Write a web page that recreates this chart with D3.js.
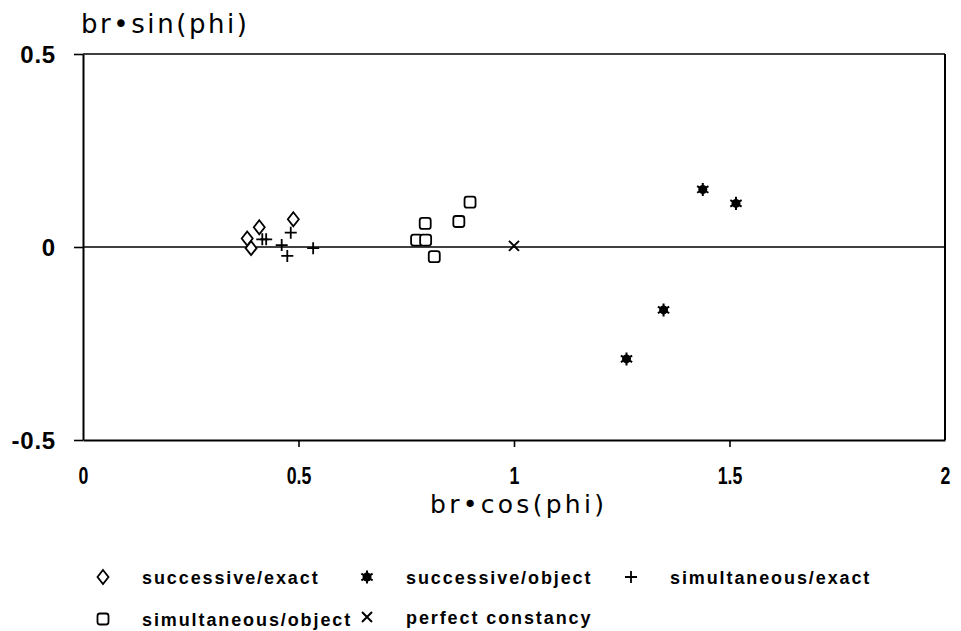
<!DOCTYPE html>
<html>
<head>
<meta charset="utf-8">
<script src="https://cdn.jsdelivr.net/npm/d3@7/dist/d3.min.js"></script>
<style>
  html, body { margin: 0; padding: 0; background: #fff; }
  svg { display: block; }
  text { font-family: "Liberation Sans", Arial, Helvetica, sans-serif; fill: #000; }
</style>
</head>
<body>
<svg id="chart" width="961" height="631"></svg>
<script>
// ---- data ----
const successiveExact = [
  [0.381, 0.022], [0.390, -0.003], [0.409, 0.051], [0.488, 0.072]
];
const successiveObject = [
  [1.261, -0.290], [1.347, -0.163], [1.438, 0.149], [1.515, 0.113]
];
const simultaneousExact = [
  [0.416, 0.020], [0.425, 0.020], [0.461, 0.005], [0.474, -0.023], [0.482, 0.037], [0.534, -0.003]
];
const simultaneousObject = [
  [0.774, 0.018], [0.795, 0.018], [0.794, 0.061], [0.815, -0.025], [0.872, 0.066], [0.898, 0.116]
];
const perfectConstancy = [[1.0, 0.003]];
const xTicks = [0, 0.5, 1, 1.5, 2];
const xTickLabels = ["0", "0.5", "1", "1.5", "2"];
const yTicks = [-0.5, 0, 0.5];
const yTickLabels = ["-0.5", "0", "0.5"];
const legendLabels = ["successive/exact", "successive/object", "simultaneous/exact",
                      "simultaneous/object", "perfect constancy"];

// ---- chart ----
const svg = d3.select("#chart");
const x = d3.scaleLinear().domain([0, 2]).range([83, 945]);
const y = d3.scaleLinear().domain([-0.5, 0.5]).range([440, 54]);

// frame (top & right)
svg.append("line").attr("x1", x(0)).attr("x2", x(2)).attr("y1", y(0.5)).attr("y2", y(0.5))
  .attr("stroke", "#000").attr("stroke-width", 1.6);
svg.append("line").attr("x1", x(2)).attr("x2", x(2)).attr("y1", y(0.5)).attr("y2", y(-0.5))
  .attr("stroke", "#000").attr("stroke-width", 2);
// zero line
svg.append("line").attr("x1", x(0)).attr("x2", x(2)).attr("y1", y(0)).attr("y2", y(0))
  .attr("stroke", "#000").attr("stroke-width", 1.6);

// axes
const xAxis = d3.axisBottom(x).tickValues(xTicks).tickSize(7).tickSizeOuter(0)
  .tickFormat((d, i) => xTickLabels[i]);
const gx = svg.append("g").attr("transform", `translate(0,${y(-0.5)})`).call(xAxis);
gx.select(".domain").attr("stroke-width", 2.2);
gx.selectAll(".tick line").attr("stroke-width", 1.6);
gx.selectAll(".tick").filter(d => d === 0 || d === 2).select("line").remove();
gx.selectAll(".tick text")
  .attr("y", 0).attr("dy", 0)
  .attr("transform", "translate(0,44) scale(0.74,1)")
  .style("font-size", "24px").style("font-weight", "bold");

const yAxis = d3.axisLeft(y).tickValues(yTicks).tickSize(9).tickSizeOuter(0)
  .tickFormat((d, i) => yTickLabels[i]);
const gy = svg.append("g").attr("transform", `translate(${x(0)},0)`).call(yAxis);
gy.select(".domain").attr("stroke-width", 2);
gy.selectAll(".tick line").attr("stroke-width", 1.6);
gy.selectAll(".tick text")
  .attr("x", -27).attr("dy", "0.36em")
  .style("font-size", "24px").style("font-weight", "bold").style("letter-spacing", "0.8px");

// axis titles
svg.append("text").attr("x", 81).attr("y", 33)
  .attr("textLength", 166).attr("lengthAdjust", "spacing")
  .style("font-family", '"DejaVu Sans", sans-serif')
  .style("font-size", "26px").text("br\u2022sin(phi)");
svg.append("text").attr("x", 430).attr("y", 513)
  .attr("textLength", 174).attr("lengthAdjust", "spacing")
  .style("font-family", '"DejaVu Sans", sans-serif')
  .style("font-size", "25px").text("br\u2022cos(phi)");

// marker drawers
function diamond(g, cx, cy) {
  g.append("path").attr("d", `M${cx},${cy-7}L${cx+5.5},${cy}L${cx},${cy+7}L${cx-5.5},${cy}Z`)
    .attr("fill", "#fff").attr("stroke", "#000").attr("stroke-width", 1.8);
}
function square(g, cx, cy) {
  g.append("rect").attr("x", cx-5.5).attr("y", cy-5.5).attr("width", 11).attr("height", 11)
    .attr("rx", 2.5).attr("fill", "#fff").attr("stroke", "#000").attr("stroke-width", 1.8);
}
function plus(g, cx, cy) {
  g.append("path").attr("d", `M${cx-6},${cy}H${cx+6}M${cx},${cy-6}V${cy+6}`)
    .attr("stroke", "#000").attr("stroke-width", 1.8).attr("fill", "none");
}
function cross(g, cx, cy) {
  g.append("path").attr("d", `M${cx-5},${cy-5}L${cx+5},${cy+5}M${cx+5},${cy-5}L${cx-5},${cy+5}`)
    .attr("stroke", "#000").attr("stroke-width", 2).attr("fill", "none");
}
function star(g, cx, cy) {
  g.append("path").attr("d", d3.symbol(d3.symbolAsterisk, 120)())
    .attr("transform", `translate(${cx},${cy})`)
    .attr("stroke", "#000").attr("stroke-width", 2).attr("fill", "none");
  g.append("circle").attr("cx", cx).attr("cy", cy).attr("r", 4.5).attr("fill", "#000");
}

const series = [
  { data: successiveExact, draw: diamond },
  { data: successiveObject, draw: star },
  { data: simultaneousExact, draw: plus },
  { data: simultaneousObject, draw: square },
  { data: perfectConstancy, draw: cross }
];
const gp = svg.append("g");
series.forEach(s => s.data.forEach(d => s.draw(gp, x(d[0]), y(d[1]))));

// legend
const legPos = [[103, 578], [367, 578], [631, 578], [103, 620], [367, 618]];
const gl = svg.append("g");
series.forEach((s, i) => {
  const [lx, ly] = legPos[i];
  s.draw(gl, lx, ly - 1);
  gl.append("text").attr("x", lx + 39).attr("y", ly + 6)
    .style("font-size", "18px").style("font-weight", "bold").style("letter-spacing", "1.9px")
    .text(legendLabels[i]);
});
</script>
</body>
</html>
